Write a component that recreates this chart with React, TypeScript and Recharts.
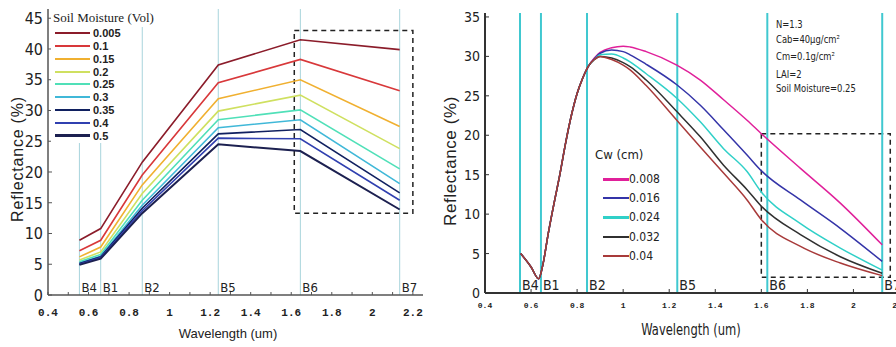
import React from "react";
import { Line, LineChart, ReferenceArea, ReferenceLine, XAxis, YAxis } from "recharts";

const NARROW = "'Liberation Sans Narrow', 'DejaVu Sans Condensed', 'Roboto Condensed', Arial, sans-serif";
const MONO = "'Liberation Mono', 'DejaVu Sans Mono', monospace";

// ---- left panel: soil moisture ----
const leftBands = [0.555, 0.66, 0.865, 1.24, 1.645, 2.135];
const leftBandNames = ["B4", "B1", "B2", "B5", "B6", "B7"];
const moistureLabels = ["0.005", "0.1", "0.15", "0.2", "0.25", "0.3", "0.35", "0.4", "0.5"];
const moistureColors = ["#8b1c2a", "#d8383a", "#f0b030", "#cfe060", "#50e0b8", "#40b8d8", "#102060", "#3040b0", "#1c2050"];
const sm005 = [8.9, 10.8, 21.6, 37.4, 41.5, 39.9];
const sm010 = [7.2, 8.9, 19.5, 34.5, 38.3, 33.2];
const sm015 = [6.2, 7.8, 17.9, 31.9, 35.0, 27.4];
const sm020 = [5.7, 7.0, 16.5, 29.9, 32.5, 23.8];
const sm025 = [5.4, 6.6, 15.4, 28.5, 30.1, 20.5];
const sm030 = [5.2, 6.3, 14.6, 27.2, 28.5, 18.1];
const sm035 = [5.1, 6.2, 14.1, 26.2, 26.9, 16.6];
const sm040 = [5.0, 6.1, 13.7, 25.5, 25.4, 15.4];
const sm050 = [4.9, 5.9, 13.3, 24.5, 23.4, 13.9];
const moistureValues = [sm005, sm010, sm015, sm020, sm025, sm030, sm035, sm040, sm050];
const leftXTicks = [0.4, 0.5, 0.6, 0.7, 0.8, 0.9, 1, 1.1, 1.2, 1.3, 1.4, 1.5, 1.6, 1.7, 1.8, 1.9, 2, 2.1, 2.2];
const leftXLabels = ["0.4", "", "0.6", "", "0.8", "", "1", "", "1.2", "", "1.4", "", "1.6", "", "1.8", "", "2", "", "2.2"];
const leftYTicks = [0, 5, 10, 15, 20, 25, 30, 35, 40, 45];

// ---- right panel: canopy water content ----
const rightBands = [0.552, 0.643, 0.843, 1.235, 1.626, 2.125];
const rightBandNames = ["B4", "B1", "B2", "B5", "B6", "B7"];
const wavelengths = [0.555, 0.6, 0.633, 0.65, 0.675, 0.7, 0.725, 0.75, 0.775, 0.8, 0.825, 0.85, 0.875, 0.9, 0.95, 1.0, 1.03, 1.1, 1.233, 1.335, 1.436, 1.538, 1.6, 1.77, 1.943, 2.125];
const cw008 = [5.0, 3.3, 1.8, 3.4, 7.6, 11.4, 15.0, 19.0, 22.5, 25.3, 27.3, 28.8, 29.8, 30.5, 31.1, 31.3, 31.2, 30.6, 28.9, 27.0, 24.5, 21.9, 20.2, 15.8, 11.4, 6.1];
const cw016 = [5.0, 3.3, 1.8, 3.4, 7.6, 11.4, 15.0, 19.0, 22.5, 25.3, 27.3, 28.8, 29.7, 30.4, 30.8, 30.6, 30.2, 29.0, 26.4, 23.8, 20.7, 17.5, 15.5, 11.8, 8.2, 4.0];
const cw024 = [5.0, 3.3, 1.8, 3.4, 7.6, 11.4, 15.0, 19.0, 22.5, 25.3, 27.3, 28.8, 29.6, 30.2, 30.3, 29.8, 29.3, 27.8, 24.7, 21.7, 18.3, 15.4, 12.8, 8.8, 5.7, 2.9];
const cw032 = [5.0, 3.3, 1.8, 3.4, 7.6, 11.4, 15.0, 19.0, 22.5, 25.3, 27.3, 28.8, 29.6, 30.0, 29.8, 29.2, 28.7, 27.0, 23.0, 19.8, 16.2, 13.1, 11.0, 7.4, 4.6, 2.5];
const cw040 = [5.0, 3.3, 1.8, 3.4, 7.6, 11.4, 15.0, 19.0, 22.5, 25.3, 27.3, 28.8, 29.6, 30.0, 29.6, 28.9, 28.3, 26.3, 21.9, 18.5, 15.2, 11.8, 9.3, 5.9, 3.8, 2.2];
const cwLabels = ["0.008", "0.016", "0.024", "0.032", "0.04"];
const cwColors = ["#e0209a", "#3434a8", "#30d0c8", "#303030", "#a83a3a"];
const cwValues = [cw008, cw016, cw024, cw032, cw040];
const rightXTicks = [0.4, 0.6, 0.8, 1, 1.2, 1.4, 1.6, 1.8, 2, 2.2];
const rightXLabels = ["0.4", "0.6", "0.8", "1", "1.2", "1.4", "1.6", "1.8", "2", "2.2"];
const rightYTicks = [0, 5, 10, 15, 20, 25, 30, 35];
const paramLines = ["N=1.3", "Cab=40µg/cm²", "Cm=0.1g/cm²", "LAI=2", "Soil Moisture=0.25"];

const leftRows = leftBands.map((w, i) => {
  const row: Record<string, number> = { w };
  moistureValues.forEach((vals, k) => (row["m" + k] = vals[i]));
  return row;
});
const rightRows = wavelengths.map((w, i) => {
  const row: Record<string, number> = { w };
  cwValues.forEach((vals, k) => (row["c" + k] = vals[i]));
  return row;
});

function xTick(labels: string[], font: string, size: number, weight: number, dy: number, tickLen: number, stroke: string) {
  return (props: any) => {
    const { x, y, index } = props;
    return (
      <g>
        <line x1={x} x2={x} y1={y} y2={y - tickLen} stroke={stroke} strokeWidth={1} />
        <text x={x} y={y + dy} textAnchor="middle" fontFamily={font} fontSize={size} fontWeight={weight} fill="#222">
          {labels[index]}
        </text>
      </g>
    );
  };
}

function yTick(font: string, size: number, stroke: string) {
  return (props: any) => {
    const { x, y, payload } = props;
    return (
      <g>
        <line x1={x} x2={x + 4} y1={y} y2={y} stroke={stroke} strokeWidth={1} />
        <text x={x - 5} y={y + size * 0.36} textAnchor="end" fontFamily={font} fontSize={size} fill="#222">
          {payload.value}
        </text>
      </g>
    );
  };
}

function bandLabel(name: string, size: number) {
  return (props: any) => {
    const vb = props.viewBox || { x: 0, y: 0, height: 0 };
    return (
      <text x={vb.x + 2} y={vb.y + vb.height - 3} fontFamily={NARROW} fontSize={size} fill="#222">
        {name}
      </text>
    );
  };
}

function LeftPanel() {
  return (
    <LineChart width={440} height={347} data={leftRows} margin={{ top: 9, right: 17, left: 0, bottom: 12 }}>
      {leftBands.map((b, i) => (
        <ReferenceLine key={b} x={b} stroke="#a8d4dc" strokeWidth={1} label={bandLabel(leftBandNames[i], 13)} />
      ))}
      <XAxis
        dataKey="w"
        type="number"
        domain={[0.4, 2.25]}
        ticks={leftXTicks}
        interval={0}
        height={40}
        tickSize={0}
        tickMargin={0}
        tickLine={false}
        stroke="#555"
        strokeWidth={1.5}
        tick={xTick(leftXLabels, MONO, 11, 700, 21, 3, "#555")}
      />
      <YAxis
        type="number"
        domain={[0, 46.5]}
        ticks={leftYTicks}
        interval={0}
        width={48}
        tickSize={0}
        tickMargin={0}
        tickLine={false}
        stroke="#555"
        strokeWidth={1.5}
        tick={yTick(NARROW, 16, "#555")}
      />
      <ReferenceArea x1={1.615} x2={2.2} y1={13.3} y2={43} fill="none" stroke="#222" strokeWidth={1.5} strokeDasharray="5 4" />
      {moistureLabels.map((m, k) => (
        <Line
          key={m}
          dataKey={"m" + k}
          type="linear"
          stroke={moistureColors[k]}
          strokeWidth={k === 8 ? 2 : 1.6}
          dot={false}
          isAnimationActive={false}
        />
      ))}
    </LineChart>
  );
}

function RightPanel() {
  return (
    <LineChart width={476} height={347} data={rightRows} margin={{ top: 13, right: 5, left: 0, bottom: 14 }}>
      {rightBands.map((b, i) => (
        <ReferenceLine key={b} x={b} stroke="#40c8d0" strokeWidth={2} label={bandLabel(rightBandNames[i], 14)} />
      ))}
      <XAxis
        dataKey="w"
        type="number"
        domain={[0.4, 2.25]}
        ticks={rightXTicks}
        interval={0}
        height={40}
        tickSize={0}
        tickMargin={0}
        tickLine={false}
        stroke="#333"
        strokeWidth={2}
        tick={xTick(rightXLabels, MONO, 8, 700, 15, 4, "#333")}
      />
      <YAxis
        type="number"
        domain={[0, 35.5]}
        ticks={rightYTicks}
        interval={0}
        width={45}
        tickSize={0}
        tickMargin={0}
        tickLine={false}
        stroke="#333"
        strokeWidth={2}
        tick={yTick(NARROW, 14, "#333")}
      />
      <ReferenceArea x1={1.6} x2={2.16} y1={2} y2={20.2} fill="none" stroke="#222" strokeWidth={1.5} strokeDasharray="5 4" />
      {cwLabels.map((c, k) => (
        <Line
          key={c}
          dataKey={"c" + k}
          type="monotone"
          stroke={cwColors[k]}
          strokeWidth={1.5}
          dot={false}
          isAnimationActive={false}
        />
      ))}
    </LineChart>
  );
}

const abs = (left: number, top: number): React.CSSProperties => ({ position: "absolute", left, top });

export default function App() {
  return (
    <div style={{ position: "fixed", left: 0, top: 0, width: 896, height: 347, background: "#fff", overflow: "hidden" }}>
      <div style={abs(0, 0)}>
        <LeftPanel />
      </div>
      <div style={abs(440, 0)}>
        <RightPanel />
      </div>

      {/* left legend */}
      <div style={{ ...abs(51, 9), width: 114, height: 18, background: "#fff" }} />
      <div style={{ ...abs(51, 9), width: 74, height: 134, background: "#fff" }} />
      <div style={{ ...abs(53, 10), fontFamily: "'Liberation Serif', serif", fontSize: 13, color: "#222", whiteSpace: "nowrap" }}>
        Soil Moisture (Vol)
      </div>
      {moistureLabels.map((m, k) => (
        <div key={m} style={{ ...abs(55, 26 + k * 12.85), display: "flex", alignItems: "center", height: 14 }}>
          <div style={{ width: 35, height: k === 8 ? 3 : 2, background: moistureColors[k] }} />
          <span style={{ marginLeft: 3, fontFamily: "Arial, 'Liberation Sans', sans-serif", fontSize: 11, fontWeight: 700, color: "#222" }}>
            {m}
          </span>
        </div>
      ))}

      {/* right legend */}
      <div style={{ ...abs(595, 147), fontFamily: NARROW, fontSize: 13, color: "#222" }}>Cw (cm)</div>
      {cwLabels.map((c, k) => (
        <div key={c} style={{ ...abs(603, 172 + k * 19.2), display: "flex", alignItems: "center", height: 14 }}>
          <div style={{ width: 26, height: k === 0 || k === 2 ? 3 : 2, background: cwColors[k] }} />
          <span style={{ fontFamily: NARROW, fontSize: 12, color: "#222" }}>{c}</span>
        </div>
      ))}

      {/* parameter box */}
      {paramLines.map((p, i) => (
        <div
          key={p}
          style={{
            ...abs(776, [18, 33, 50, 68, 82][i]),
            fontFamily: NARROW,
            fontSize: 11,
            color: "#222",
            whiteSpace: "nowrap",
            transform: "scaleX(0.85)",
            transformOrigin: "left center",
          }}
        >
          {p}
        </div>
      ))}

      {/* axis titles */}
      <div style={{ ...abs(228, 333), transform: "translate(-50%, -50%)", fontFamily: "Arial, 'Liberation Sans', sans-serif", fontSize: 13, color: "#222", whiteSpace: "nowrap" }}>
        Wavelength (um)
      </div>
      <div style={{ ...abs(691, 329), transform: "translate(-50%, -50%) scaleX(0.8)", fontFamily: NARROW, fontSize: 16, color: "#222", whiteSpace: "nowrap" }}>
        Wavelength (um)
      </div>
      <div style={{ ...abs(18, 159), transform: "translate(-50%, -50%) rotate(-90deg)", fontFamily: "Arial, 'Liberation Sans', sans-serif", fontSize: 16, letterSpacing: 0.8, color: "#222", whiteSpace: "nowrap" }}>
        Reflectance (%)
      </div>
      <div style={{ ...abs(451, 161), transform: "translate(-50%, -50%) rotate(-90deg)", fontFamily: "Arial, 'Liberation Sans', sans-serif", fontSize: 17, letterSpacing: 0.6, color: "#222", whiteSpace: "nowrap" }}>
        Reflectance (%)
      </div>
    </div>
  );
}
